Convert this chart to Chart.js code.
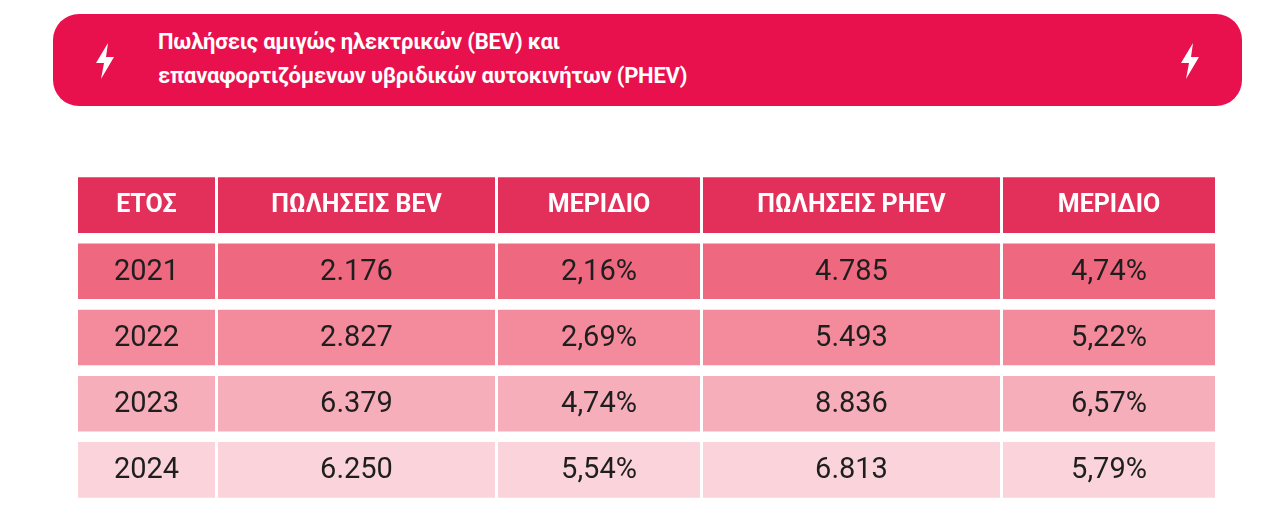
<!DOCTYPE html>
<html><head><meta charset="utf-8">
<script src="https://cdn.jsdelivr.net/npm/chart.js@4"></script>
<style>
body{margin:0;width:1270px;height:523px;background:#fff;position:relative;overflow:hidden;font-family:Roboto,"Noto Sans",sans-serif}
#banner{position:absolute;left:53px;top:14px;width:1189px;height:92px;background:#e8104d;border-radius:26px}
#title{position:absolute;left:105px;top:11px;color:#fff;font-weight:700;font-size:22px;line-height:34px;letter-spacing:-0.2px}
.bolt{position:absolute;top:28px}
#wrap{position:absolute;left:78px;top:172px;width:1137px;height:331px}
</style></head><body>
<div id="banner">
<svg class="bolt" style="left:40px" width="24" height="38" viewBox="0 0 24 38"><path d="M15 1 L3 21 H11 L8 37 L21 15 H13 Z" fill="#fff"/></svg>
<div id="title">Πωλήσεις αμιγώς ηλεκτρικών (BEV) και<br>επαναφορτιζόμενων υβριδικών αυτοκινήτων (PHEV)</div>
<svg class="bolt" style="left:1125px" width="24" height="38" viewBox="0 0 24 38"><path d="M15 1 L3 21 H11 L8 37 L21 15 H13 Z" fill="#fff"/></svg>
</div>
<div id="wrap"><canvas id="c"></canvas></div>
<script>
const headers = ["ΕΤΟΣ","ΠΩΛΗΣΕΙΣ BEV","ΜΕΡΙΔΙΟ","ΠΩΛΗΣΕΙΣ PHEV","ΜΕΡΙΔΙΟ"];
const years = ["2021","2022","2023","2024"];
const bevSales = ["2.176","2.827","6.379","6.250"];
const bevShare = ["2,16%","2,69%","4,74%","5,54%"];
const phevSales = ["4.785","5.493","8.836","6.813"];
const phevShare = ["4,74%","5,22%","6,57%","5,79%"];

const edges = [0,140,420,625,925,1137];
const rowColors = ["#e3305a","#ee6880","#f38b9c","#f7aebb","#fbd4db"];
const rows = ["h","r1","r2","r3","r4"];
const columns = [headers, ...[]];
const colData = [years,bevSales,bevShare,phevSales,phevShare];

const datasets = colData.map((col,ci)=>({
  data: rows.map(()=>[edges[ci], edges[ci+1]-(ci<4?3:0)]),
  labelsText: [headers[ci], ...col],
  backgroundColor: rowColors,
  borderWidth:0,
  barPercentage: 0.84,
  categoryPercentage: 1,
  grouped:false
}));

const textPlugin = {
  id:'txt',
  afterDatasetsDraw(chart){
    const ctx = chart.ctx;
    chart.data.datasets.forEach((ds,di)=>{
      chart.getDatasetMeta(di).data.forEach((bar,ri)=>{
        const cx = (bar.x + bar.base)/2;
        ctx.save();
        ctx.textAlign='center'; ctx.textBaseline='middle';
        if(ri===0){ctx.fillStyle='#fff';ctx.font='700 25px Roboto';}
        else {ctx.fillStyle='#1e1e1e';ctx.font='400 29px Roboto';}
        ctx.fillText(ds.labelsText[ri], cx, bar.y+1);
        ctx.restore();
      });
    });
  }
};

new Chart(document.getElementById('c'),{
  type:'bar',
  data:{labels:rows,datasets},
  options:{
    indexAxis:'y',responsive:true,maintainAspectRatio:false,animation:false,
    layout:{padding:0},
    plugins:{legend:{display:false},tooltip:{enabled:false}},
    scales:{
      x:{type:'linear',min:0,max:1137,display:false},
      y:{display:false,offset:true}
    }
  },
  plugins:[textPlugin]
});
</script>
</body></html>
